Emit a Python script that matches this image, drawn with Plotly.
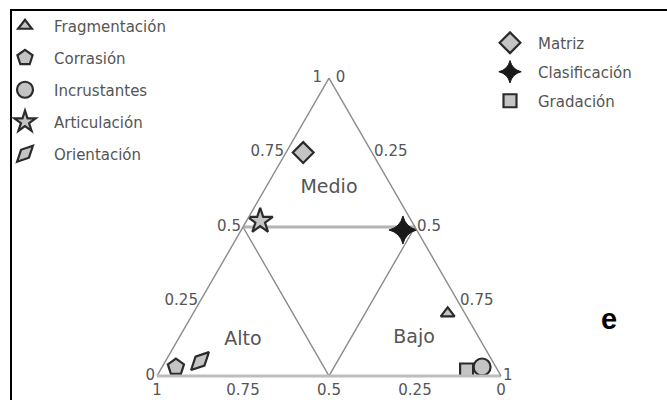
import plotly.graph_objects as go

# Ternary composition of each indicator: Medio (a), Alto (b), Bajo (c)
series = ["Fragmentación", "Corrasión", "Incrustantes", "Articulación", "Orientación",
          "Matriz", "Clasificación", "Gradación"]
medio = [0.21, 0.03, 0.03, 0.52, 0.05, 0.75, 0.49, 0.02]
alto = [0.05, 0.93, 0.04, 0.44, 0.85, 0.20, 0.04, 0.09]
bajo = [0.74, 0.04, 0.93, 0.04, 0.10, 0.05, 0.47, 0.89]

# Zone dividers (midpoints of the edges)
div_slant_a = [0.5, 0.0, 0.5]
div_slant_b = [0.5, 0.5, 0.0]
div_slant_c = [0.0, 0.5, 0.5]
div_mid_a = [0.5, 0.5]
div_mid_b = [0.5, 0.0]
div_mid_c = [0.0, 0.5]

# Zone labels
zones = ["Medio", "Alto", "Bajo"]
zone_a = [0.63, 0.12, 0.125]
zone_b = [0.185, 0.69, 0.19]
zone_c = [0.185, 0.19, 0.685]

tick_vals = [0, 0.25, 0.5, 0.75, 1]
tick_text = ["0", "0.25", "0.5", "0.75", "1"]
NB = "\u00a0"
a_tick_text = ["0", "0.25", "0.5", "0.75", "1" + NB]
c_tick_text = [NB + "0", "0.25", "0.5", "0.75", "1"]

FILL = "#c4c4c4"
EDGE = "#2b2b2b"
FONT = "DejaVu Sans"

styles = {
    "Fragmentación": dict(symbol="triangle-up", size=12),
    "Corrasión": dict(symbol="pentagon", size=17),
    "Incrustantes": dict(symbol="circle", size=17),
    "Articulación": dict(symbol="star", size=19),
    "Orientación": dict(symbol="diamond-tall", size=18, angle=45),
    "Matriz": dict(symbol="diamond", size=16),
    "Clasificación": dict(symbol="star-diamond", size=20),
    "Gradación": dict(symbol="square", size=13),
}
second_legend = {"Matriz", "Clasificación", "Gradación"}

fig = go.Figure()

fig.add_trace(go.Scatterternary(
    a=div_slant_a, b=div_slant_b, c=div_slant_c, mode="lines",
    line=dict(color="#8c8c8c", width=1.4), showlegend=False, hoverinfo="skip"))
fig.add_trace(go.Scatterternary(
    a=div_mid_a, b=div_mid_b, c=div_mid_c, mode="lines",
    line=dict(color="#b4b4b4", width=3), showlegend=False, hoverinfo="skip"))

fig.add_trace(go.Scatterternary(
    a=zone_a, b=zone_b, c=zone_c, mode="text", text=zones,
    textfont=dict(family=FONT, size=19, color="#555555"),
    showlegend=False, hoverinfo="skip"))

for name, a, b, c in zip(series, medio, alto, bajo):
    st = styles[name]
    if name == "Clasificación":
        marker = dict(symbol=st["symbol"], size=st["size"], color="#1a1a1a",
                      line=dict(color="#1a1a1a", width=1))
    else:
        marker = dict(symbol=st["symbol"], size=st["size"], color=FILL,
                      angle=st.get("angle", 0), line=dict(color=EDGE, width=2.2))
    fig.add_trace(go.Scatterternary(
        a=[a], b=[b], c=[c], mode="markers", name=name, legendgroup=name,
        marker=marker,
        legend="legend2" if name in second_legend else "legend"))

axis_common = dict(
    tickmode="array", tickvals=tick_vals, ticktext=tick_text,
    showgrid=False, ticks="", ticklen=0,
    tickfont=dict(family=FONT, size=15, color="#555555"),
    linecolor="#8c8c8c", linewidth=1.4, title=dict(text=""),
)

fig.update_layout(
    width=667, height=400, autosize=False,
    margin=dict(l=0, r=0, t=0, b=0, pad=0, autoexpand=False),
    paper_bgcolor="white",
    ternary=dict(
        sum=1,
        bgcolor="white",
        domain=dict(x=[157 / 667, 501 / 667], y=[24 / 400, 322 / 400]),
        aaxis=dict(axis_common, ticktext=a_tick_text),
        baxis=dict(axis_common, linecolor="#bdbdbd", linewidth=3),
        caxis=dict(axis_common, ticktext=c_tick_text),
    ),
    legend=dict(
        x=-4 / 667, y=1 - 9.5 / 400, xanchor="left", yanchor="top",
        bgcolor="rgba(0,0,0,0)", tracegroupgap=9.5, itemwidth=48,
        font=dict(family=FONT, size=15, color="#555555"),
    ),
    legend2=dict(
        x=482 / 667, y=1 - 26.5 / 400, xanchor="left", yanchor="top",
        bgcolor="rgba(0,0,0,0)", tracegroupgap=6.5, itemwidth=46,
        font=dict(family=FONT, size=15, color="#555555"),
    ),
    showlegend=True,
    annotations=[dict(
        x=619 / 667, y=1 - 337 / 400, xref="paper", yref="paper",
        text="<b>e</b>", showarrow=False,
        font=dict(family="Liberation Sans", size=29, color="black"),
    )],
    shapes=[
        dict(type="line", xref="paper", yref="paper",
             x0=10 / 667, x1=1, y0=1 - 10 / 400, y1=1 - 10 / 400,
             line=dict(color="black", width=2)),
        dict(type="line", xref="paper", yref="paper",
             x0=11 / 667, x1=11 / 667, y0=0, y1=1 - 10 / 400,
             line=dict(color="black", width=2)),
    ],
)

fig.write_html("out.html")
